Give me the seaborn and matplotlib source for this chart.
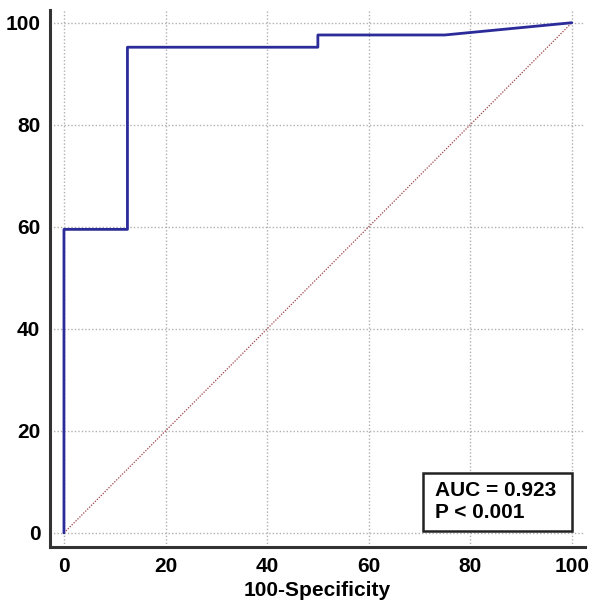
import numpy as np
import pandas as pd
import matplotlib
matplotlib.use("Agg")
import matplotlib.pyplot as plt
from matplotlib.patches import Rectangle
import seaborn as sns

# ROC curve points (100-Specificity, Sensitivity)
fpr = [0, 0, 12.5, 12.5, 50, 50, 75, 100]
tpr = [0, 59.5, 59.5, 95.2, 95.2, 97.6, 97.6, 100]
ticks = [0, 20, 40, 60, 80, 100]
auc_text = "AUC = 0.923\nP < 0.001"

sns.set_style("white")
plt.rcParams['font.family'] = ['Liberation Sans', 'DejaVu Sans']
plt.rcParams['font.weight'] = 'bold'
plt.rcParams['text.color'] = 'black'
plt.rcParams['axes.labelcolor'] = 'black'
plt.rcParams['xtick.color'] = '#333333'
plt.rcParams['ytick.color'] = '#333333'
plt.rcParams['xtick.labelcolor'] = 'black'
plt.rcParams['ytick.labelcolor'] = 'black'

df = pd.DataFrame({'fpr': fpr, 'tpr': tpr})

fig = plt.figure(figsize=(5.93, 6.01), dpi=100)
ax = fig.add_axes([0.0843, 0.0899, 0.9022, 0.8935])

# grid
for t in ticks:
    ax.axvline(t, color='#b0b0b0', lw=1, ls=(0, (1, 1.5)), zorder=0)
    ax.axhline(t, color='#b0b0b0', lw=1, ls=(0, (1, 1.5)), zorder=0)

# reference diagonal
ax.plot([0, 100], [0, 100], color='#a0404a', lw=0.9, ls=(0, (1, 1.2)), zorder=1)

sns.lineplot(data=df, x='fpr', y='tpr', sort=False, estimator=None,
             color='#2b2b9a', lw=2.0, ax=ax, zorder=3)

ax.set_xlim(-2.75, 102.6)
ax.set_ylim(-2.75, 102.5)
ax.set_xticks(ticks)
ax.set_yticks(ticks)
ax.tick_params(direction='in', length=9, width=2, labelsize=15, pad=7)
for lab in ax.get_xticklabels() + ax.get_yticklabels():
    lab.set_fontweight('bold')

for s in ['top', 'right']:
    ax.spines[s].set_visible(False)
for s in ['left', 'bottom']:
    ax.spines[s].set_linewidth(2.2)
    ax.spines[s].set_color('#333333')

ax.set_xlabel('100-Specificity', fontsize=15, fontweight='bold', labelpad=4)
ax.set_ylabel('')

# AUC box
ax.add_patch(Rectangle((70.7, 0.4), 29.3, 11.4, facecolor='white',
                       edgecolor='#222222', lw=1.8, zorder=5))
ax.text(73.0, 6.1, auc_text, fontsize=15, fontweight='bold', va='center',
        ha='left', linespacing=1.2, zorder=6)

fig.savefig('out.png', dpi=100)
